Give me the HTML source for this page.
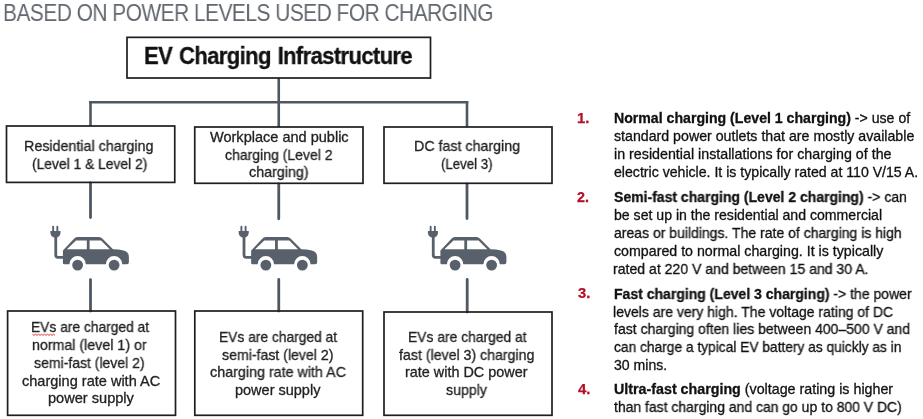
<!DOCTYPE html>
<html><head><meta charset="utf-8">
<style>
html,body{margin:0;padding:0;background:#fff;}
body{width:923px;height:419px;position:relative;overflow:hidden;font-family:"Liberation Sans",sans-serif;}
.a{position:absolute;}
.t{position:absolute;white-space:nowrap;transform-origin:0 0;will-change:transform;}
.box{position:absolute;box-sizing:border-box;border:1.5px solid #222;}
.ln{position:absolute;background:#4f5862;}
b{font-weight:bold;}
</style></head><body>
<svg class="a" style="left:0;top:0;" width="923" height="419" viewBox="0 0 923 419">
<defs>
<g id="car">
<rect x="4.2" y="3.8" width="1.9" height="6" rx="0.9" fill="#58616b"/>
<rect x="8.4" y="3.8" width="1.9" height="6" rx="0.9" fill="#58616b"/>
<path d="M2.4,8.9 H12.5 V10.6 C12.5,13.6 10.3,15.6 7.45,15.6 C4.6,15.6 2.4,13.6 2.4,10.6 Z" fill="#58616b"/>
<path d="M7.75,15 V33 Q7.75,35.3 10,35.3 H16" stroke="#58616b" stroke-width="2.8" fill="none"/>
<path d="M14.9,41 V28.6 L26,16.8 Q27.2,14.9 29.5,14.9 H51 Q53,14.9 54.3,16.4 L65,27.2 Q71,27.3 75.5,28.4 Q80.9,29.8 80.9,35 V40.2 Q80.9,42.2 78.9,42.2 H74.3 A8.2,8.2 0 0 0 57.9,42.2 H37.8 A8.2,8.2 0 0 0 21.4,42.2 H16.1 Q14.9,42.2 14.9,41 Z" fill="#58616b"/>
<path d="M18.9,27.2 L28,18.6 H38.8 V27.2 Z M41.6,27.2 V18.6 H53 L61.8,27.2 Z" fill="#fff"/>
<circle cx="29.6" cy="43.1" r="5.4" fill="#58616b"/>
<circle cx="66.1" cy="43.1" r="5.4" fill="#58616b"/>
</g>
</defs>
<path d="M278.75,78 V127 M89,102.3 H468.5 M90.5,102.3 V126 M467,102.3 V127" stroke="#4f5862" stroke-width="2.6" fill="none"/>
<path d="M90.5,183 V217.6 M278.75,184 V218.8 M467,184 V218.6 M90.5,279.6 V311 M278.75,279.4 V311 M467.2,279.4 V312" stroke="#4f5862" stroke-width="2.8" fill="none" stroke-linecap="round"/>
<g fill="none" stroke="#1e1e1e" stroke-width="1.7">
<rect x="127" y="37.35" width="303.5" height="40.65"/>
<rect x="6.5" y="126" width="168.25" height="56.4"/>
<rect x="194.75" y="127" width="168.25" height="56.3"/>
<rect x="384" y="127" width="168" height="56.3"/>
<rect x="7.6" y="311" width="167.9" height="104.3"/>
<rect x="194.8" y="311" width="167.9" height="104.3"/>
<rect x="384" y="312" width="168" height="103.3"/>
</g>
<use href="#car" x="48" y="222"/>
<use href="#car" x="236.25" y="222"/>
<use href="#car" x="425.5" y="222"/>
<path d="M32.5,334.2 l1.5,1.2 l1.5,-1.2 l1.5,1.2 l1.5,-1.2 l1.5,1.2 l1.5,-1.2 l1.5,1.2 l1.5,-1.2 l1.5,1.2 l1.5,-1.2 l1.5,1.2 l1.5,-1.2 l1.5,1.2 l1.5,-1.2 l1.5,1.2" stroke="#d93a3a" stroke-width="1" fill="none"/>
</svg>


<div class="t" style="left:3.08px;top:0.98px;font-size:24px;line-height:24px;color:#62686f;letter-spacing:-0.6px;;transform:scaleX(0.8718);">BASED ON POWER LEVELS USED FOR CHARGING</div>
<div class="t" style="left:144.06px;top:44.90px;font-size:23.5px;line-height:23.5px;font-weight:bold;color:#111;letter-spacing:-0.7px;word-spacing:1.5px;-webkit-text-stroke:0.3px #111;;transform:scaleX(0.9398);">EV Charging Infrastructure</div>
<div class="t" style="left:24.21px;top:138.81px;font-size:14.4px;line-height:14.4px;color:#222222;-webkit-text-stroke:0.3px #222;transform:scaleX(0.9922);">Residential charging</div>
<div class="t" style="left:32.21px;top:156.71px;font-size:14.4px;line-height:14.4px;color:#222222;-webkit-text-stroke:0.3px #222;transform:scaleX(0.9608);">(Level 1 &amp; Level 2)</div>
<div class="t" style="left:209.80px;top:130.31px;font-size:14.4px;line-height:14.4px;color:#222222;-webkit-text-stroke:0.3px #222;transform:scaleX(1.0095);">Workplace and public</div>
<div class="t" style="left:224.59px;top:148.41px;font-size:14.4px;line-height:14.4px;color:#222222;-webkit-text-stroke:0.3px #222;transform:scaleX(0.9737);">charging (Level 2</div>
<div class="t" style="left:248.81px;top:165.31px;font-size:14.4px;line-height:14.4px;color:#222222;-webkit-text-stroke:0.3px #222;transform:scaleX(0.9917);">charging)</div>
<div class="t" style="left:413.81px;top:139.31px;font-size:14.4px;line-height:14.4px;color:#222222;-webkit-text-stroke:0.3px #222;transform:scaleX(0.9887);">DC fast charging</div>
<div class="t" style="left:441.44px;top:157.31px;font-size:14.4px;line-height:14.4px;color:#222222;-webkit-text-stroke:0.3px #222;transform:scaleX(0.9197);">(Level 3)</div>
<div class="t" style="left:30.83px;top:320.01px;font-size:14.4px;line-height:14.4px;color:#222222;-webkit-text-stroke:0.3px #222;transform:scaleX(0.9577);">EVs are charged at</div>
<div class="t" style="left:32.02px;top:338.41px;font-size:14.4px;line-height:14.4px;color:#222222;-webkit-text-stroke:0.3px #222;transform:scaleX(0.9879);">normal (level 1) or</div>
<div class="t" style="left:34.20px;top:356.21px;font-size:14.4px;line-height:14.4px;color:#222222;-webkit-text-stroke:0.3px #222;transform:scaleX(0.9744);">semi-fast (level 2)</div>
<div class="t" style="left:21.80px;top:374.31px;font-size:14.4px;line-height:14.4px;color:#222222;-webkit-text-stroke:0.3px #222;transform:scaleX(1.0102);">charging rate with AC</div>
<div class="t" style="left:47.99px;top:391.41px;font-size:14.4px;line-height:14.4px;color:#222222;-webkit-text-stroke:0.3px #222;transform:scaleX(1.0131);">power supply</div>
<div class="t" style="left:218.83px;top:330.01px;font-size:14.4px;line-height:14.4px;color:#222222;-webkit-text-stroke:0.3px #222;transform:scaleX(0.9577);">EVs are charged at</div>
<div class="t" style="left:222.20px;top:347.61px;font-size:14.4px;line-height:14.4px;color:#222222;-webkit-text-stroke:0.3px #222;transform:scaleX(0.9814);">semi-fast (level 2)</div>
<div class="t" style="left:209.80px;top:365.11px;font-size:14.4px;line-height:14.4px;color:#222222;-webkit-text-stroke:0.3px #222;transform:scaleX(0.9942);">charging rate with AC</div>
<div class="t" style="left:234.99px;top:383.01px;font-size:14.4px;line-height:14.4px;color:#222222;-webkit-text-stroke:0.3px #222;transform:scaleX(1.0072);">power supply</div>
<div class="t" style="left:407.85px;top:330.01px;font-size:14.4px;line-height:14.4px;color:#222222;-webkit-text-stroke:0.3px #222;transform:scaleX(0.9618);">EVs are charged at</div>
<div class="t" style="left:399.20px;top:347.61px;font-size:14.4px;line-height:14.4px;color:#222222;-webkit-text-stroke:0.3px #222;transform:scaleX(0.9847);">fast (level 3) charging</div>
<div class="t" style="left:405.40px;top:365.11px;font-size:14.4px;line-height:14.4px;color:#222222;-webkit-text-stroke:0.3px #222;transform:scaleX(1.0008);">rate with DC power</div>
<div class="t" style="left:446.00px;top:383.01px;font-size:14.4px;line-height:14.4px;color:#222222;-webkit-text-stroke:0.3px #222;transform:scaleX(0.9811);">supply</div>
<div class="t" style="left:577.39px;top:110.96px;font-size:14.1px;line-height:14.1px;font-weight:bold;color:#b50f28;-webkit-text-stroke:0.25px #b50f28;;transform:scaleX(1.0555);">1.</div>
<div class="t" style="left:577.38px;top:189.96px;font-size:14.1px;line-height:14.1px;font-weight:bold;color:#b50f28;-webkit-text-stroke:0.25px #b50f28;;transform:scaleX(1.0111);">2.</div>
<div class="t" style="left:578.23px;top:286.36px;font-size:14.1px;line-height:14.1px;font-weight:bold;color:#b50f28;-webkit-text-stroke:0.25px #b50f28;;transform:scaleX(1.0474);">3.</div>
<div class="t" style="left:577.63px;top:381.86px;font-size:14.1px;line-height:14.1px;font-weight:bold;color:#b50f28;-webkit-text-stroke:0.25px #b50f28;;transform:scaleX(1.0639);">4.</div>
<div class="t" style="left:613.60px;top:110.96px;font-size:14.1px;line-height:14.1px;color:#111111;-webkit-text-stroke:0.3px #111;transform:scaleX(1.0017);"><b>Normal charging (Level 1 charging)</b> -&gt; use of</div>
<div class="t" style="left:613.60px;top:129.06px;font-size:14.1px;line-height:14.1px;color:#111111;-webkit-text-stroke:0.3px #111;transform:scaleX(1.0060);">standard power outlets that are mostly available</div>
<div class="t" style="left:613.60px;top:147.36px;font-size:14.1px;line-height:14.1px;color:#111111;-webkit-text-stroke:0.3px #111;transform:scaleX(1.0120);">in residential installations for charging of the</div>
<div class="t" style="left:613.60px;top:165.16px;font-size:14.1px;line-height:14.1px;color:#111111;-webkit-text-stroke:0.3px #111;transform:scaleX(1.0017);">electric vehicle. It is typically rated at 110 V/15 A.</div>
<div class="t" style="left:613.60px;top:190.36px;font-size:14.1px;line-height:14.1px;color:#111111;-webkit-text-stroke:0.3px #111;transform:scaleX(0.9932);"><b>Semi-fast charging (Level 2 charging)</b> -&gt; can</div>
<div class="t" style="left:613.60px;top:208.16px;font-size:14.1px;line-height:14.1px;color:#111111;-webkit-text-stroke:0.3px #111;transform:scaleX(1.0004);">be set up in the residential and commercial</div>
<div class="t" style="left:613.60px;top:225.96px;font-size:14.1px;line-height:14.1px;color:#111111;-webkit-text-stroke:0.3px #111;transform:scaleX(0.9934);">areas or buildings. The rate of charging is high</div>
<div class="t" style="left:613.60px;top:243.66px;font-size:14.1px;line-height:14.1px;color:#111111;-webkit-text-stroke:0.3px #111;transform:scaleX(1.0082);">compared to normal charging. It is typically</div>
<div class="t" style="left:612.60px;top:261.56px;font-size:14.1px;line-height:14.1px;color:#111111;-webkit-text-stroke:0.3px #111;transform:scaleX(0.9973);">rated at 220 V and between 15 and 30 A.</div>
<div class="t" style="left:613.60px;top:286.96px;font-size:14.1px;line-height:14.1px;color:#111111;-webkit-text-stroke:0.3px #111;transform:scaleX(0.9933);"><b>Fast charging (Level 3 charging)</b> -&gt; the power</div>
<div class="t" style="left:612.61px;top:304.66px;font-size:14.1px;line-height:14.1px;color:#111111;-webkit-text-stroke:0.3px #111;transform:scaleX(0.9943);">levels are very high. The voltage rating of DC</div>
<div class="t" style="left:613.60px;top:322.36px;font-size:14.1px;line-height:14.1px;color:#111111;-webkit-text-stroke:0.3px #111;transform:scaleX(0.9943);">fast charging often lies between 400–500 V and</div>
<div class="t" style="left:613.60px;top:339.86px;font-size:14.1px;line-height:14.1px;color:#111111;-webkit-text-stroke:0.3px #111;transform:scaleX(0.9759);">can charge a typical EV battery as quickly as in</div>
<div class="t" style="left:613.60px;top:357.56px;font-size:14.1px;line-height:14.1px;color:#111111;-webkit-text-stroke:0.3px #111;transform:scaleX(0.9982);">30 mins.</div>
<div class="t" style="left:613.60px;top:382.26px;font-size:14.1px;line-height:14.1px;color:#111111;-webkit-text-stroke:0.3px #111;transform:scaleX(1.0123);"><b>Ultra-fast charging</b> (voltage rating is higher</div>
<div class="t" style="left:613.60px;top:399.86px;font-size:14.1px;line-height:14.1px;color:#111111;-webkit-text-stroke:0.3px #111;transform:scaleX(0.9900);">than fast charging and can go up to 800 V DC)</div>
</body></html>
